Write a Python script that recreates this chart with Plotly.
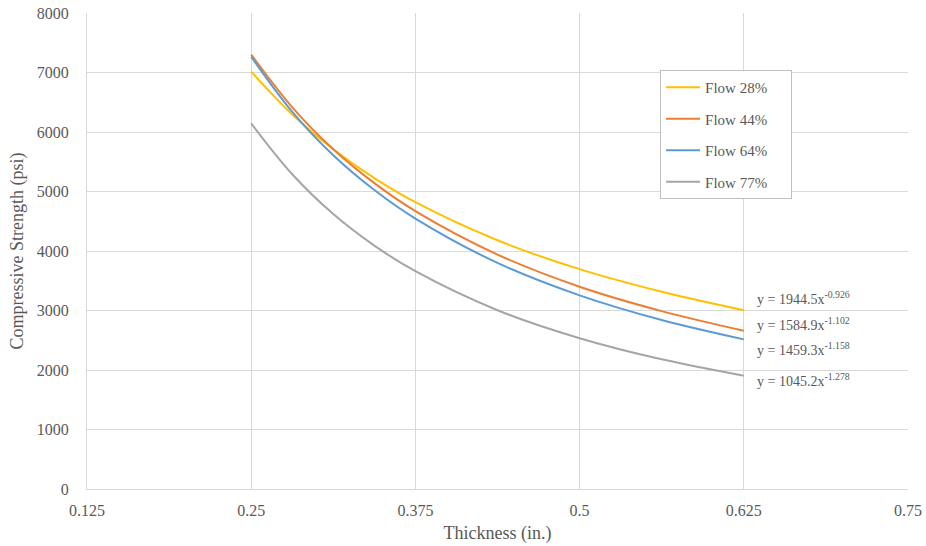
import plotly.graph_objects as go

thickness = [0.25, 0.28125, 0.3125, 0.34375, 0.375, 0.4375, 0.5, 0.5625, 0.625]
flow28 = [7015, 6295, 5710, 5225, 4820, 4180, 3695, 3315, 3005]
flow44 = [7300, 6415, 5710, 5140, 4670, 3940, 3400, 2990, 2660]
flow64 = [7265, 6340, 5610, 5025, 4545, 3800, 3255, 2840, 2515]
flow77 = [6145, 5290, 4620, 4090, 3660, 3005, 2535, 2180, 1905]

series_names = ["Flow 28%", "Flow 44%", "Flow 64%", "Flow 77%"]
series_vals = [flow28, flow44, flow64, flow77]
colors = ["#FFC000", "#ED7D31", "#5B9BD5", "#A5A5A5"]
equations = ["y = 1944.5x<sup>-0.926</sup>", "y = 1584.9x<sup>-1.102</sup>",
             "y = 1459.3x<sup>-1.158</sup>", "y = 1045.2x<sup>-1.278</sup>"]
eq_y = [3210, 2770, 2360, 1840]

x_ticks = [0.125, 0.25, 0.375, 0.5, 0.625, 0.75]
x_tick_labels = ["0.125", "0.25", "0.375", "0.5", "0.625", "0.75"]
y_ticks = [0, 1000, 2000, 3000, 4000, 5000, 6000, 7000, 8000]

FONT = "Liberation Serif"
TXT = "#595959"

fig = go.Figure()
for i in range(4):
    fig.add_trace(go.Scatter(
        x=thickness, y=series_vals[i], name=series_names[i] + "\u00a0" * 5, mode="lines",
        line=dict(color=colors[i], width=2, shape="spline"),
        legendgroup=f"g{i}", legendrank=i + 1,
    ))

for i in range(4):
    fig.add_annotation(x=0.625, y=eq_y[i], xref="x", yref="y", text=equations[i],
                       showarrow=False, xanchor="left", xshift=11,
                       font=dict(family=FONT, size=14, color=TXT))

fig.update_layout(
    width=926, height=546,
    margin=dict(l=87, r=18, t=13, b=57, autoexpand=False),
    paper_bgcolor="white", plot_bgcolor="white",
    font=dict(family=FONT, color=TXT, size=16),
    showlegend=True,
    legend=dict(x=0.698, y=0.88, xanchor="left", yanchor="top",
                bordercolor="#BFBFBF", borderwidth=1, bgcolor="white",
                font=dict(family=FONT, size=15, color=TXT),
                tracegroupgap=9, itemwidth=34),
    xaxis=dict(range=[0.125, 0.75], tickvals=x_ticks, ticktext=x_tick_labels,
               showgrid=True, gridcolor="#D9D9D9", gridwidth=1, automargin=False,
               showline=True, linecolor="#D9D9D9", zeroline=False,
               ticks="", ticklabelstandoff=7,
               title=dict(text="Thickness (in.)", font=dict(family=FONT, size=18, color=TXT), standoff=8)),
    yaxis=dict(range=[0, 8000], tickvals=y_ticks,
               showgrid=True, gridcolor="#D9D9D9", gridwidth=1, automargin=False,
               showline=True, linecolor="#D9D9D9", zeroline=False,
               ticks="", ticklabelstandoff=14,
               title=dict(text="Compressive Strength (psi)", font=dict(family=FONT, size=18, color=TXT), standoff=8)),
)

fig.write_html("out.html")
